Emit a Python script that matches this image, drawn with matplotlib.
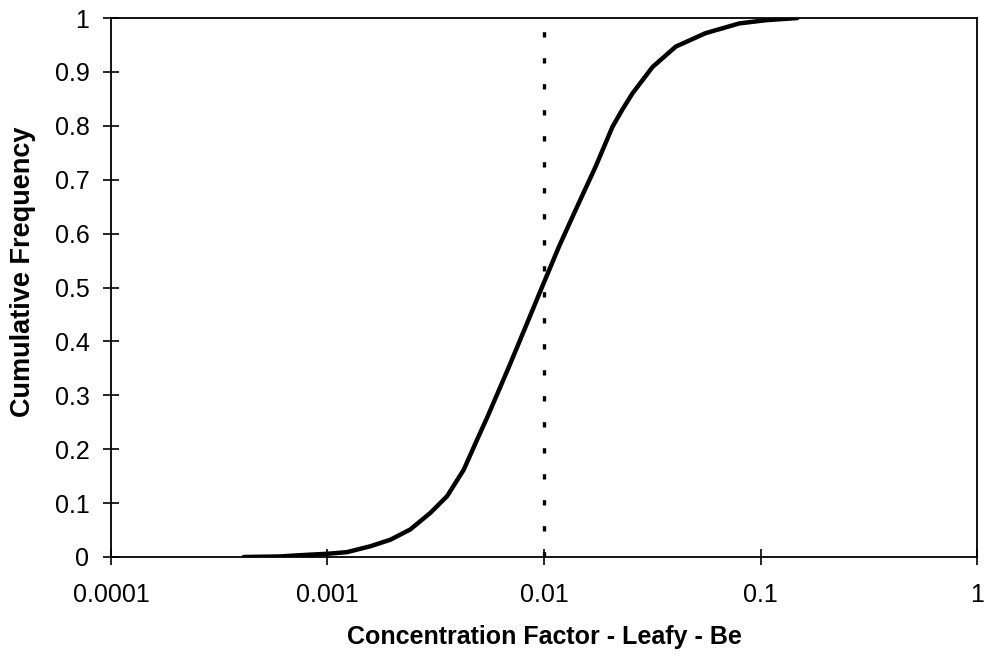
import matplotlib
matplotlib.use("Agg")
import matplotlib.pyplot as plt
from matplotlib.ticker import FixedLocator, FixedFormatter, NullLocator

# Data
cf_values = [0.00041, 0.00060, 0.00080, 0.0010, 0.00123, 0.00158, 0.00195, 0.00241,
             0.00299, 0.00357, 0.00426, 0.00499, 0.00548, 0.00689, 0.00822, 0.00982,
             0.01173, 0.0140, 0.0173, 0.0207, 0.0230, 0.0256, 0.0317, 0.0406,
             0.0558, 0.0798, 0.106, 0.148]
cum_freq = [0.000, 0.001, 0.004, 0.006, 0.009, 0.020, 0.032, 0.051,
            0.082, 0.113, 0.162, 0.224, 0.260, 0.353, 0.427, 0.502,
            0.576, 0.644, 0.724, 0.798, 0.830, 0.860, 0.909, 0.947,
            0.972, 0.990, 0.996, 1.000]
median_x = [0.01, 0.01]
median_y = [0.0, 0.985]

x_ticks = [0.0001, 0.001, 0.01, 0.1, 1]
x_tick_labels = ["0.0001", "0.001", "0.01", "0.1", "1"]
y_ticks = [0, 0.1, 0.2, 0.3, 0.4, 0.5, 0.6, 0.7, 0.8, 0.9, 1]
y_tick_labels = ["0", "0.1", "0.2", "0.3", "0.4", "0.5", "0.6", "0.7", "0.8", "0.9", "1"]

plt.rcParams['font.family'] = ['Liberation Sans', 'DejaVu Sans']

fig = plt.figure(figsize=(9.89, 6.58), dpi=100)
ax = fig.add_axes([0.1122, 0.1535, 0.8757, 0.8191])

ax.plot(cf_values, cum_freq, color='black', linewidth=3.2, solid_capstyle='round',
        solid_joinstyle='round')
ax.plot(median_x, median_y, color='black', linewidth=2.4, linestyle=(0, (1.6, 6.2)))

ax.set_xscale('log')
ax.set_xlim(0.0001, 1)
ax.set_ylim(0, 1)

ax.xaxis.set_major_locator(FixedLocator(x_ticks))
ax.xaxis.set_major_formatter(FixedFormatter(x_tick_labels))
ax.xaxis.set_minor_locator(NullLocator())
ax.yaxis.set_major_locator(FixedLocator(y_ticks))
ax.yaxis.set_major_formatter(FixedFormatter(y_tick_labels))

ax.tick_params(axis='both', direction='inout', length=11, width=1.2, labelsize=18, colors='black')
ax.tick_params(axis='x', pad=13)
ax.tick_params(axis='y', pad=10)

for s in ax.spines.values():
    s.set_linewidth(1.3)
    s.set_color('black')

ax.set_xlabel("Concentration Factor - Leafy - Be", fontsize=18, fontweight='bold')
ax.set_ylabel("Cumulative Frequency", fontsize=19.5, fontweight='bold')
ax.xaxis.set_label_coords(0.5, -0.126)
ax.yaxis.set_label_coords(-0.087, 0.529)

fig.savefig("out.png", dpi=100, facecolor='white')
